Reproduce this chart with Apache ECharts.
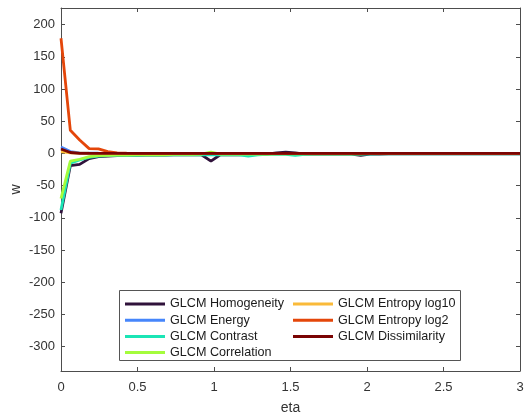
<!DOCTYPE html>
<html>
<head>
<meta charset="utf-8">
<script src="https://cdn.jsdelivr.net/npm/echarts@6/dist/echarts.min.js"></script>
<style>
  html, body { margin: 0; padding: 0; background: #fff; }
  #chart { width: 525px; height: 418px; }
</style>
</head>
<body>
<div id="chart"></div>
<script>
// Sampled eta values (50 samples over 0..3)
const eta = [0, 0.061, 0.122, 0.184, 0.245, 0.306, 0.367, 0.429, 0.490, 0.551,
  0.612, 0.673, 0.735, 0.796, 0.857, 0.918, 0.980, 1.041, 1.102, 1.163,
  1.224, 1.286, 1.347, 1.408, 1.469, 1.531, 1.592, 1.653, 1.714, 1.776,
  1.837, 1.898, 1.959, 2.020, 2.082, 2.143, 2.204, 2.265, 2.327, 2.388,
  2.449, 2.510, 2.571, 2.633, 2.694, 2.755, 2.816, 2.878, 2.939, 3.000];

const seriesNames = ['GLCM Homogeneity', 'GLCM Energy', 'GLCM Contrast', 'GLCM Correlation',
  'GLCM Entropy log10', 'GLCM Entropy log2', 'GLCM Dissimilarity'];

const homogeneity = [-93, -19, -17, -8, -5, -4, -3.5, -3, -3, -2.5,
  -2.5, -2.5, -2, -2, -2, -2, -12, -2, -2, -2,
  -1.5, -1.5, -1, 1, 2, 1, -1, -1, -1, -1,
  -1, -1, -3, -1, -1, -0.5, -0.5, -0.5, -0.5, -0.5,
  -0.5, -0.5, -0.5, -0.5, -0.5, -0.5, -0.5, -0.5, -0.5, -0.5];
const energy = [10, 3, 1, 0.5, 0.3, 0.2, 0.1, 0, 0, 0,
  0, 0, 0, 0, 0, 0, 0, 0, 0, 0,
  0, 0, 0, 0, 0, 0, 0, 0, 0, 0,
  0, 0, 0, 0, 0, 0, 0, 0, 0, 0,
  0, 0, 0, 0, 0, 0, 0, 0, 0, 0];
const contrast = [-88, -15, -10, -6, -4, -3.5, -3, -3, -3, -2.5,
  -2.5, -2.5, -2, -2, -2, -2, -2, -2, -2, -2,
  -4, -2, -1.5, -1.5, -1.5, -3, -1.5, -1, -1, -1,
  -1, -1, -1, -1, -0.5, -0.5, -0.5, -0.5, -0.5, -0.5,
  -0.5, -0.5, -0.5, -0.5, -0.5, -0.5, -0.5, -0.5, -0.5, -0.5];
const correlation = [-70, -12, -9, -5, -3.5, -3, -2.5, -2.5, -2, -2,
  -2, -2, -1.5, -1.5, -1.5, -1, 2, -1, -1, -1,
  -1, -1, -1, -0.5, -0.5, -0.5, -0.5, -0.5, -0.5, -0.5,
  -0.5, -0.5, -0.5, 0, 0, 0, 0, 0, 0, 0,
  0, 0, 0, 0, 0, 0, 0, 0, 0, 0];
const entropyLog10 = [3, 1, 0.5, 0.3, 0.2, 0.1, 0, 0, 0, 0,
  0, 0, 0, 0, 0, 0, 0, 0, 0, 0,
  0, 0, 0, 0, 0, 0, 0, 0, 0, 0,
  0, 0, 0, 0, 0, 0, 0, 0, 0, 0,
  0, 0, 0, 0, 0, 0, 0, 0, 0, 0];
const entropyLog2 = [179, 36, 21, 7.5, 7, 3, 1, 0.5, 0.2, 0,
  0, 0, 0, 0, 0, 0, 0, 0, 0, 0,
  0, 0, 0, 0, 0, 0, 0, 0, 0, 0,
  0, 0, 0, 0, 0, 0, 0, 0, 0, 0,
  0, 0, 0, 0, 0, 0, 0, 0, 0, 0];
const dissimilarity = [7, 1.5, 0, 0, 0, 0, 0, 0, 0, 0,
  0, 0, 0, 0, 0, 0, 0, 0, 0, 0,
  0, 0, 0, 0, 0, 0, 0, 0, 0, 0,
  0, 0, 0, 0, 0, 0, 0, 0, 0, 0,
  0, 0, 0, 0, 0, 0, 0, 0, 0, 0];

const yTicks = [-300, -250, -200, -150, -100, -50, 0, 50, 100, 150, 200];
const xTicks = [0, 0.5, 1, 1.5, 2, 2.5, 3];

const values = [homogeneity, energy, contrast, correlation, entropyLog10, entropyLog2, dissimilarity];
const colors = ['#30123B', '#4686FB', '#1BE5B5', '#A4FC3C', '#FABA39', '#E4460A', '#7A0403'];

const axisColor = '#4d4d4d';
const textColor = '#333333';
const font = 'Liberation Sans, Arial, sans-serif';

const series = values.map((vals, k) => ({
  name: seriesNames[k],
  type: 'line',
  data: vals.map((v, i) => [eta[i], v]),
  showSymbol: false,
  symbol: 'none',
  lineStyle: { width: 2.8, color: colors[k] },
  itemStyle: { color: colors[k] },
  z: 2 + k,
  animation: false
}));

const legendCommon = {
  orient: 'vertical',
  itemWidth: 40,
  itemHeight: 3,
  itemGap: 3.2,
  icon: 'rect',
  textStyle: { fontSize: 12.6, color: '#1a1a1a', fontFamily: font },
  padding: 0,
  z: 100,
  selectedMode: false
};

const chart = echarts.init(document.getElementById('chart'), null, { renderer: 'canvas' });
chart.setOption({
  animation: false,
  backgroundColor: '#ffffff',
  color: colors,
  grid: { left: 61, right: 5, top: 8, bottom: 47, containLabel: false, outerBoundsMode: 'none' },
  xAxis: [{
    type: 'value', min: 0, max: 3, interval: 0.5,
    name: 'eta', nameLocation: 'middle', nameGap: 30,
    nameTextStyle: { fontSize: 14, color: textColor, fontFamily: font },
    axisLine: { onZero: false, lineStyle: { color: axisColor, width: 1 } },
    axisTick: { inside: true, length: 4, lineStyle: { color: axisColor } },
    axisLabel: { fontSize: 13, color: textColor, fontFamily: font, margin: 10,
      customValues: xTicks },
    splitLine: { show: false }
  }, {
    type: 'value', min: 0, max: 3, interval: 0.5, position: 'top',
    axisLine: { onZero: false, lineStyle: { color: axisColor, width: 1 } },
    axisTick: { inside: true, length: 4, lineStyle: { color: axisColor } },
    axisLabel: { show: false },
    splitLine: { show: false }
  }],
  yAxis: [{
    type: 'value', min: -338, max: 226,
    name: 'w', nameLocation: 'middle', nameGap: 38, nameRotate: 90,
    nameMoveOverlap: false,
    nameTextStyle: { fontSize: 14, color: textColor, fontFamily: font },
    axisLine: { show: true, onZero: false, lineStyle: { color: axisColor, width: 1 } },
    axisTick: { show: true, inside: true, length: 4, lineStyle: { color: axisColor },
      customValues: yTicks },
    axisLabel: { fontSize: 13, color: textColor, fontFamily: font, margin: 6,
      customValues: yTicks },
    splitLine: { show: false }
  }, {
    type: 'value', min: -338, max: 226, position: 'right',
    axisLine: { show: true, onZero: false, lineStyle: { color: axisColor, width: 1 } },
    axisTick: { show: true, inside: true, length: 4, lineStyle: { color: axisColor },
      customValues: yTicks },
    axisLabel: { show: false },
    splitLine: { show: false }
  }],
  legend: [
    Object.assign({}, legendCommon, {
      left: 125, top: 297.5,
      data: seriesNames.slice(0, 4)
    }),
    Object.assign({}, legendCommon, {
      left: 293, top: 297.5,
      data: seriesNames.slice(4)
    })
  ],
  graphic: [{
    type: 'rect',
    shape: { x: 119.5, y: 290.5, width: 341, height: 70 },
    style: { fill: '#ffffff', stroke: '#555555', lineWidth: 1 },
    z: 1,
    zlevel: 0,
    silent: true
  }],
  series: series
});
</script>
</body>
</html>
